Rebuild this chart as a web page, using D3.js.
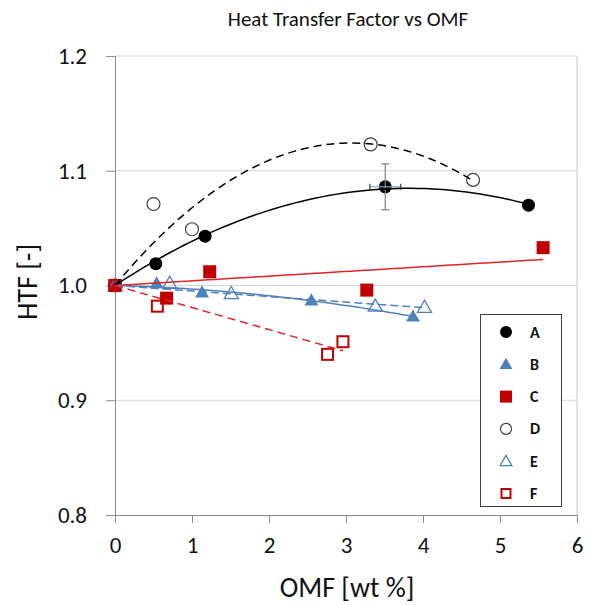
<!DOCTYPE html>
<html>
<head>
<meta charset="utf-8">
<script src="https://cdn.jsdelivr.net/npm/d3@7"></script>
<style>
  body { margin: 0; background: #fff; }
  svg { font-family: Carlito, Lato, "Open Sans", sans-serif; }
</style>
</head>
<body>
<svg id="chart" width="590" height="605"></svg>
<script>
// data (OMF in wt %, HTF dimensionless)
const seriesNames = ["A", "B", "C", "D", "E", "F"];
const omfA = [0, 0.53, 1.17, 3.51, 5.37];
const htfA = [1.0, 1.019, 1.043, 1.086, 1.070];
const omfB = [0, 0.54, 1.13, 2.55, 3.87];
const htfB = [1.0, 1.002, 0.994, 0.987, 0.973];
const omfC = [0, 0.67, 1.23, 3.27, 5.56];
const htfC = [1.0, 0.989, 1.012, 0.996, 1.033];
const omfD = [0, 0.50, 1.00, 3.32, 4.65];
const htfD = [1.0, 1.071, 1.049, 1.123, 1.092];
const omfE = [0, 0.71, 1.51, 3.38, 4.02];
const htfE = [1.0, 1.002, 0.993, 0.982, 0.981];
const omfF = [0, 0.55, 2.76, 2.96];
const htfF = [1.0, 0.982, 0.940, 0.951];
// error bar on the A point at 3.51 wt %
const errA = { index: 3, dx: 0.2, dy: 0.02 };
const xTicks = [0, 1, 2, 3, 4, 5, 6];
const yTicks = [0.8, 0.9, 1.0, 1.1, 1.2];

const svg = d3.select("#chart");
const x = d3.scaleLinear().domain([0, 6]).range([115, 577]);
const y = d3.scaleLinear().domain([0.8, 1.2]).range([515, 56]);

// series styling
const styles = {
  A: { marker: "circle", fill: "#000", stroke: "#000", line: "#000", dash: null, order: 2 },
  B: { marker: "triangle", fill: "#4f81bd", stroke: "#4f81bd", line: "#4f81bd", dash: null, order: 2 },
  C: { marker: "square", fill: "#c00000", stroke: "#c00000", line: "#e02424", dash: null, order: 1 },
  D: { marker: "circle", fill: "none", stroke: "#404040", line: "#000", dash: "8,5", order: 2 },
  E: { marker: "triangle", fill: "none", stroke: "#4f81bd", line: "#4f81bd", dash: "8,4", order: 1 },
  F: { marker: "square", fill: "none", stroke: "#c00000", line: "#e02424", dash: "8,5", order: 1 }
};
const seriesData = {
  A: [omfA, htfA], B: [omfB, htfB], C: [omfC, htfC],
  D: [omfD, htfD], E: [omfE, htfE], F: [omfF, htfF]
};

// least squares trendline with intercept fixed at 1 (linear or quadratic)
function fitTrend(xs, ys, order) {
  const d = ys.map(v => v - 1);
  if (order === 1) {
    const a = d3.sum(xs, (v, i) => v * d[i]) / d3.sum(xs, v => v * v);
    return t => 1 + a * t;
  }
  const s2 = d3.sum(xs, v => v ** 2), s3 = d3.sum(xs, v => v ** 3), s4 = d3.sum(xs, v => v ** 4);
  const r1 = d3.sum(xs, (v, i) => v * d[i]), r2 = d3.sum(xs, (v, i) => v * v * d[i]);
  const det = s2 * s4 - s3 * s3;
  const a = (r1 * s4 - s3 * r2) / det;
  const b = (s2 * r2 - s3 * r1) / det;
  return t => 1 + a * t + b * t * t;
}

// gridlines
svg.append("g").selectAll("line")
  .data(yTicks.filter(v => v > 0.8))
  .join("line")
  .attr("x1", x(0)).attr("x2", x(6))
  .attr("y1", d => y(d)).attr("y2", d => y(d))
  .attr("stroke", "#d4d4d4").attr("stroke-width", 1);

// right border of plot area
svg.append("line")
  .attr("x1", x(6)).attr("x2", x(6)).attr("y1", y(1.2)).attr("y2", y(0.8))
  .attr("stroke", "#c8c8c8");

// axes
const xAxis = svg.append("g")
  .attr("transform", `translate(0,${y(0.8)})`)
  .call(d3.axisBottom(x).tickValues(xTicks).tickSize(8).tickPadding(13).tickFormat(d3.format("d")));
const yAxis = svg.append("g")
  .attr("transform", `translate(${x(0)},0)`)
  .call(d3.axisLeft(y).tickValues(yTicks).tickSize(9).tickPadding(19).tickFormat(d3.format(".1f")));
[xAxis, yAxis].forEach(g => {
  g.select(".domain").attr("stroke", "#8c8c8c");
  g.selectAll(".tick line").attr("stroke", "#8c8c8c");
  g.selectAll(".tick text")
    .attr("fill", "#111")
    .style("font-size", "23px")
    .style("font-family", "Carlito, Lato, 'Open Sans', sans-serif");
});
xAxis.selectAll(".tick text").attr("dy", "0.72em");

// markers
const plot = svg.append("g");
function drawMarker(g, kind, cx, cy, st, size) {
  if (kind === "circle") {
    g.append("circle").attr("cx", cx).attr("cy", cy).attr("r", size / 2)
      .attr("fill", st.fill).attr("stroke", st.stroke).attr("stroke-width", st.fill === "none" ? 1.2 : 0);
  } else if (kind === "square") {
    const open = st.fill === "none";
    const s = open ? size - 2 : size;
    g.append("rect").attr("x", cx - s / 2).attr("y", cy - s / 2).attr("width", s).attr("height", s)
      .attr("fill", st.fill).attr("stroke", st.stroke).attr("stroke-width", open ? 2 : 0);
  } else {
    g.append("path")
      .attr("transform", `translate(${cx},${cy + 1})`)
      .attr("d", d3.symbol(d3.symbolTriangle, size * size * 0.5)())
      .attr("fill", st.fill).attr("stroke", st.stroke).attr("stroke-width", st.fill === "none" ? 1.3 : 0);
  }
}

seriesNames.forEach(name => {
  const [xs, ys] = seriesData[name];
  const st = styles[name];
  const g = plot.append("g");
  xs.forEach((v, i) => drawMarker(g, st.marker, x(v), y(ys[i]), st, 13));
});

// error bars on A
const ex = omfA[errA.index], ey = htfA[errA.index];
const eb = plot.append("g").attr("stroke-width", 1.2);
eb.append("line").attr("x1", x(ex)).attr("x2", x(ex)).attr("y1", y(ey + errA.dy)).attr("y2", y(ey - errA.dy)).attr("stroke", "#7f7f7f");
[ey + errA.dy, ey - errA.dy].forEach(v =>
  eb.append("line").attr("x1", x(ex) - 4).attr("x2", x(ex) + 4).attr("y1", y(v)).attr("y2", y(v)).attr("stroke", "#7f7f7f"));
eb.append("line").attr("x1", x(ex - errA.dx)).attr("x2", x(ex + errA.dx)).attr("y1", y(ey)).attr("y2", y(ey)).attr("stroke", "#8aa0c0");
[ex - errA.dx, ex + errA.dx].forEach(v =>
  eb.append("line").attr("x1", x(v)).attr("x2", x(v)).attr("y1", y(ey) - 3).attr("y2", y(ey) + 3).attr("stroke", "#404040"));

// trendlines
const line = d3.line().x(d => x(d[0])).y(d => y(d[1]));
seriesNames.forEach(name => {
  const [xs, ys] = seriesData[name];
  const st = styles[name];
  const f = fitTrend(xs, ys, st.order);
  const xmax = d3.max(xs);
  const pts = d3.range(0, 61).map(i => { const t = xmax * i / 60; return [t, f(t)]; });
  plot.append("path")
    .datum(pts)
    .attr("fill", "none")
    .attr("stroke", st.line)
    .attr("stroke-width", 1.5)
    .attr("stroke-dasharray", st.dash)
    .attr("d", line);
});

// legend
const lg = svg.append("g");
lg.append("rect").attr("x", 480.5).attr("y", 314.5).attr("width", 81).attr("height", 192)
  .attr("fill", "#fff").attr("stroke", "#404040").attr("stroke-width", 1);
seriesNames.forEach((name, i) => {
  const cy = 332 + i * 32.3;
  const st = styles[name];
  drawMarker(lg, st.marker, 506, cy, st, st.fill === "none" ? 11 : 12);
  lg.append("text")
    .attr("x", 530).attr("y", cy)
    .attr("dominant-baseline", "central")
    .attr("fill", "#111")
    .style("font-size", "16px")
    .style("font-weight", "bold")
    .text(name);
});

// titles
svg.append("text")
  .attr("x", 348).attr("y", 21)
  .attr("text-anchor", "middle").attr("dominant-baseline", "middle")
  .attr("fill", "#111").style("font-size", "21px")
  .text("Heat Transfer Factor vs OMF");
svg.append("text")
  .attr("x", 347).attr("y", 590)
  .attr("text-anchor", "middle").attr("dominant-baseline", "middle")
  .attr("fill", "#111").style("font-size", "28px")
  .text("OMF [wt %]");
svg.append("text")
  .attr("transform", "rotate(-90, 30, 282)")
  .attr("x", 30).attr("y", 282)
  .attr("text-anchor", "middle").attr("dominant-baseline", "middle")
  .attr("fill", "#111").style("font-size", "28px")
  .text("HTF [-]");
</script>
</body>
</html>
